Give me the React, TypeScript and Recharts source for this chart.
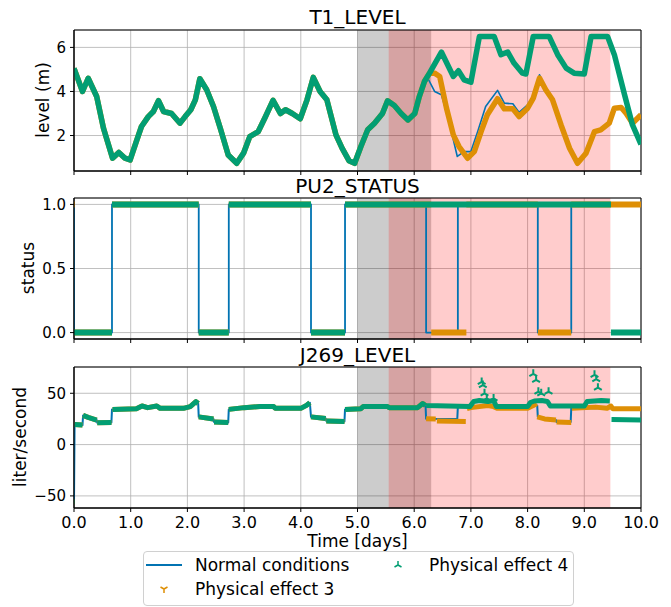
import React from "react";
import {
  ComposedChart,
  Line,
  Scatter,
  XAxis,
  YAxis,
  CartesianGrid,
  ReferenceArea,
} from "recharts";

// colorblind palette
const BLUE = "#0173b2";
const ORANGE = "#de8f05";
const GREEN = "#029e73";
const FONT = "'DejaVu Sans', sans-serif";

const days = [0, 1, 2, 3, 4, 5, 6, 7, 8, 9, 10];

// shaded windows (days)
const grayWindow = [5.0, 6.3];
const redWindow = [5.55, 9.46];

// ---- T1_LEVEL ----
// identical for all three runs until ~6.2 days
const t1SharedTime = [0, 0.15, 0.25, 0.4, 0.52, 0.68, 0.79, 0.9, 0.99, 1.1, 1.19, 1.31, 1.4, 1.49, 1.58, 1.72, 1.87, 1.96, 2.06, 2.14, 2.22, 2.34, 2.46, 2.58, 2.72, 2.87, 2.99, 3.1, 3.25, 3.37, 3.51, 3.64, 3.73, 3.85, 3.99, 4.11, 4.22, 4.34, 4.46, 4.62, 4.73, 4.85, 4.95, 5.06, 5.18, 5.3, 5.44, 5.53, 5.65, 5.77, 5.89, 6.01, 6.09, 6.18];
const t1SharedLevel = [5.05, 4.0, 4.6, 3.77, 2.33, 0.97, 1.23, 0.97, 0.89, 1.73, 2.41, 2.86, 3.09, 3.58, 3.09, 3.0, 2.56, 2.86, 3.17, 3.62, 4.58, 4.08, 3.32, 2.33, 1.12, 0.74, 1.2, 1.95, 2.18, 2.82, 3.6, 3.0, 3.17, 3.0, 2.76, 3.62, 4.64, 4.0, 3.62, 2.03, 1.42, 0.86, 0.74, 1.5, 2.26, 2.56, 3.0, 3.58, 3.36, 3.0, 2.71, 3.0, 3.77, 4.45];

const t1NormalTime = [6.24, 6.36, 6.48, 6.6, 6.76, 6.88, 7.0, 7.12, 7.26, 7.47, 7.59, 7.74, 7.85, 8.0, 8.1, 8.21, 8.32, 8.44, 8.59, 8.74, 8.88, 9.03, 9.18, 9.29, 9.44, 9.53, 9.65, 9.74, 9.85, 10.0];
const t1NormalLevel = [4.6, 4.0, 3.85, 2.79, 1.05, 1.27, 1.27, 2.18, 3.32, 4.05, 3.47, 3.44, 3.05, 3.39, 3.77, 4.76, 4.08, 3.62, 2.48, 1.42, 0.74, 1.2, 2.18, 2.26, 2.56, 3.24, 3.27, 3.0, 2.56, 2.94];

const t1Effect3Time = [6.27, 6.36, 6.45, 6.57, 6.69, 6.79, 6.94, 7.06, 7.18, 7.29, 7.47, 7.59, 7.74, 7.85, 8.0, 8.1, 8.21, 8.32, 8.44, 8.59, 8.74, 8.88, 9.03, 9.18, 9.29, 9.44, 9.53, 9.65, 9.74, 9.85, 10.0];
const t1Effect3Level = [4.83, 4.83, 4.68, 3.24, 2.03, 1.5, 0.97, 1.27, 2.18, 2.94, 3.67, 3.21, 3.21, 2.86, 3.24, 3.7, 4.61, 4.08, 3.62, 2.48, 1.42, 0.74, 1.2, 2.18, 2.26, 2.56, 3.24, 3.27, 3.0, 2.56, 2.94];

const t1Effect4Time = [6.27, 6.48, 6.69, 6.78, 6.88, 7.0, 7.15, 7.41, 7.53, 7.65, 7.76, 7.91, 7.97, 8.1, 8.38, 8.53, 8.68, 8.82, 9.0, 9.12, 9.41, 9.53, 9.71, 9.85, 10.0];
const t1Effect4Level = [4.83, 5.79, 4.68, 4.94, 4.53, 4.42, 6.5, 6.5, 5.67, 5.79, 5.29, 4.83, 4.79, 6.5, 6.5, 5.67, 5.06, 4.83, 4.79, 6.5, 6.5, 5.67, 3.85, 2.48, 1.6];

// ---- PU2_STATUS ----
const statusNormalTime = [0, 0, 0.67, 2.2, 2.73, 4.18, 4.78, 6.21, 6.77, 8.18, 8.77, 10];
const statusNormalValue = [1, 0, 1, 0, 1, 0, 1, 0, 1, 0, 1, 1];
// [start, end, value]
const statusEffect3 = [[0, 0.015, 1], [0, 0.67, 0], [0.67, 2.2, 1], [2.2, 2.73, 0], [2.73, 4.18, 1], [4.18, 4.78, 0], [4.78, 6.3, 1], [6.3, 6.92, 0], [6.92, 8.18, 1], [8.18, 8.77, 0], [8.77, 10, 1]];
const statusEffect4 = [[0, 0.67, 0], [0.67, 2.2, 1], [2.2, 2.73, 0], [2.73, 4.18, 1], [4.18, 4.78, 0], [4.78, 9.47, 1], [9.47, 10, 0]];

// ---- J269_LEVEL ----
const j269NormalTime = [0, 0.01, 0.15, 0.16, 0.25, 0.4, 0.41, 0.66, 0.67, 1.1, 1.2, 1.3, 1.46, 1.52, 1.93, 2.05, 2.15, 2.19, 2.2, 2.46, 2.47, 2.72, 2.73, 3.0, 3.28, 3.52, 3.55, 4.0, 4.1, 4.16, 4.18, 4.44, 4.45, 4.77, 4.78, 5.06, 5.1, 5.53, 5.56, 6.06, 6.15, 6.2, 6.21, 6.76, 6.77, 7.4, 8.0, 8.1, 8.17, 8.18, 8.5, 8.51, 8.76, 8.77, 9.4, 9.47, 9.5, 10];
const j269NormalValue = [-55.6, 19.6, 19, 28.4, 26.5, 23.9, 21.2, 21.5, 34.3, 35, 37.6, 36, 37.6, 35.3, 35.3, 37, 41.8, 40, 27, 25, 21.9, 21.5, 34.3, 36, 37, 37, 35.3, 35.3, 38.2, 40.8, 27, 25.5, 22.9, 22.5, 34.3, 35, 37, 37, 36, 36, 40, 38, 25.2, 25, 37, 36.5, 37, 40, 38, 27, 24, 22, 22, 35.5, 35.5, 37.6, 35, 35];

// marker runs (no connection across jumps)
const j269SharedRuns = [
  [[0, -55.6], [0.012, -55.6]],
  [[0.01, 19.6], [0.15, 19]],
  [[0.16, 28.4], [0.25, 26.5], [0.4, 23.9]],
  [[0.41, 21.2], [0.66, 21.5]],
  [[0.68, 34.3], [1.1, 35], [1.2, 37.6], [1.3, 36], [1.46, 37.6], [1.52, 35.3], [1.93, 35.3], [2.05, 37], [2.15, 41.8], [2.19, 40]],
  [[2.2, 27], [2.46, 25]],
  [[2.47, 21.9], [2.72, 21.5]],
  [[2.73, 34.3], [3.0, 36], [3.28, 37], [3.52, 37], [3.55, 35.3], [4.0, 35.3], [4.1, 38.2], [4.16, 40.8]],
  [[4.18, 27], [4.44, 25.5]],
  [[4.45, 22.9], [4.77, 22.5]],
  [[4.78, 34.3], [5.06, 35], [5.1, 37], [5.53, 37], [5.56, 36], [6.06, 36], [6.15, 40], [6.2, 38]],
];
const j269Effect3Runs = [
  [[6.21, 25.2], [6.38, 25]],
  [[6.4, 22.9], [6.91, 22.5]],
  [[6.93, 35], [7.0, 36], [7.3, 38], [7.4, 37], [7.47, 35.3], [8.0, 35.3], [8.1, 38], [8.16, 40]],
  [[8.17, 27], [8.3, 25], [8.5, 24]],
  [[8.51, 22], [8.77, 21.5]],
  [[8.78, 35.3], [9.2, 36.5], [9.4, 35.3], [9.47, 37.6], [9.5, 35], [10, 35]],
];
const j269Effect4Runs = [
  [[6.21, 38], [6.6, 37.6], [6.98, 37], [7.05, 42], [7.15, 43], [7.3, 42], [7.4, 43], [7.45, 37], [8.0, 37], [8.05, 41], [8.12, 42.5], [8.25, 43], [8.35, 42], [8.4, 37.6], [9.0, 37.6], [9.05, 42], [9.3, 43], [9.45, 42.5]],
  [[9.48, 24.5], [10, 24]],
];
const j269SpikeTime = [7.19, 7.21, 7.24, 7.28, 7.4, 8.1, 8.15, 8.19, 8.24, 8.37, 9.18, 9.21, 9.24];
const j269SpikeValue = [61, 58, 50, 45, 45, 69, 63, 51.6, 50, 51.6, 68, 63.7, 55.5];

type Pt = { t: number; v: number | null };
const zip = (ts: number[], vs: number[]): Pt[] => ts.map((t, i) => ({ t, v: vs[i] }));
const joinRuns = (runs: number[][][]): Pt[] =>
  runs.flatMap((run, i) => [
    ...(i ? [{ t: run[0][0], v: null }] : []),
    ...run.map(([t, v]) => ({ t, v })),
  ]);
const segRuns = (segs: number[][]) => segs.map(([a, b, v]) => [[a, v], [b, v]]);

const t1Shared = zip(t1SharedTime, t1SharedLevel);
const t1Normal = [...t1Shared, ...zip(t1NormalTime, t1NormalLevel)];
const t1Effect3 = [...t1Shared, ...zip(t1Effect3Time, t1Effect3Level)];
const t1Effect4 = [...t1Shared, ...zip(t1Effect4Time, t1Effect4Level)];

const statusNormal = zip(statusNormalTime, statusNormalValue);
const statusE3 = joinRuns(segRuns(statusEffect3));
const statusE4 = joinRuns(segRuns(statusEffect4));

const j269Normal = zip(j269NormalTime, j269NormalValue);
const j269E3 = joinRuns([...j269SharedRuns, ...j269Effect3Runs]);
const j269E4 = joinRuns([...j269SharedRuns, ...j269Effect4Runs]);
const j269Spikes = zip(j269SpikeTime, j269SpikeValue);

const TriUp = (props: any) => {
  const { cx, cy } = props;
  const r = 4.5;
  return (
    <path
      d={`M${cx},${cy}L${cx},${cy - r}M${cx},${cy}L${cx - r * 0.866},${cy + r * 0.5}M${cx},${cy}L${cx + r * 0.866},${cy + r * 0.5}`}
      stroke={GREEN}
      strokeWidth={2}
      fill="none"
    />
  );
};

const tickStyle = { fontSize: 15, fill: "#000", fontFamily: FONT };

function Panel({ top, height, domain, ticks, fmt, xLabels, children }: any) {
  return (
    <div style={{ position: "absolute", left: 0, top }}>
      <ComposedChart
        width={671}
        height={height}
        margin={{ top: 30, right: 30, bottom: 0, left: 14 }}
      >
        <CartesianGrid stroke="#b0b0b0" strokeWidth={0.8} />
        <XAxis
          type="number"
          dataKey="t"
          domain={[0, 10]}
          ticks={days}
          interval={0}
          allowDataOverflow
          height={xLabels ? 30 : 9}
          tickFormatter={(d: number) => (xLabels ? d.toFixed(1) : "")}
          tick={{ ...tickStyle, fontSize: 16 }}
          tickLine={{ stroke: "#000" }}
          axisLine={{ stroke: "#000" }}
          tickSize={4}
          tickMargin={5}
        />
        <YAxis
          type="number"
          domain={domain}
          ticks={ticks}
          interval={0}
          allowDataOverflow
          width={60}
          tickFormatter={fmt}
          tick={tickStyle}
          tickLine={{ stroke: "#000" }}
          axisLine={{ stroke: "#000" }}
          tickSize={4}
          tickMargin={4}
        />
        <ReferenceArea x1={grayWindow[0]} x2={grayWindow[1]} fill="#000" fillOpacity={0.2} strokeOpacity={0} />
        <ReferenceArea x1={redWindow[0]} x2={redWindow[1]} fill="#ff0000" fillOpacity={0.2} strokeOpacity={0} />
        {children}
        <ReferenceArea
          x1={0}
          x2={10}
          y1={domain[0]}
          y2={domain[1]}
          fill="none"
          stroke="#000"
          strokeWidth={1}
          ifOverflow="visible"
        />
      </ComposedChart>
    </div>
  );
}

const textAbs = (left: number, top: number, rotate = false): React.CSSProperties => ({
  position: "absolute",
  left,
  top,
  transform: `translate(-50%, -50%)${rotate ? " rotate(-90deg)" : ""}`,
  whiteSpace: "nowrap",
  fontFamily: FONT,
  color: "#000",
});

const legendRow: React.CSSProperties = {
  position: "absolute",
  display: "flex",
  alignItems: "center",
  fontSize: 17,
  fontFamily: FONT,
  whiteSpace: "nowrap",
};

export default function App() {
  const lineProps = { dot: false, activeDot: false, isAnimationActive: false, connectNulls: false, strokeLinejoin: "round" as const };
  return (
    <div style={{ position: "absolute", left: 0, top: 0, width: 671, height: 607, background: "#fff", overflow: "hidden" }}>
      <Panel top={0} height={180} domain={[0.39, 6.79]} ticks={[2, 4, 6]} fmt={(v: number) => String(v)}>
        <Line data={t1Normal} dataKey="v" stroke={BLUE} strokeWidth={1.6} {...lineProps} />
        <Line data={t1Effect3} dataKey="v" stroke={ORANGE} strokeWidth={5.5} {...lineProps} />
        <Line data={t1Effect4} dataKey="v" stroke={GREEN} strokeWidth={5.5} {...lineProps} />
      </Panel>
      <Panel top={168} height={180} domain={[-0.05, 1.05]} ticks={[0, 0.5, 1]} fmt={(v: number) => v.toFixed(1)}>
        <Line data={statusNormal} dataKey="v" type="stepAfter" stroke={BLUE} strokeWidth={1.8} {...lineProps} />
        <Line data={statusE3} dataKey="v" stroke={ORANGE} strokeWidth={6} {...lineProps} />
        <Line data={statusE4} dataKey="v" stroke={GREEN} strokeWidth={6} {...lineProps} />
      </Panel>
      <Panel top={337} height={201} domain={[-61.8, 75.6]} ticks={[-50, 0, 50]} fmt={(v: number) => (v < 0 ? "\u2212" + Math.abs(v) : String(v))} xLabels>
        <Line data={j269Normal} dataKey="v" stroke={BLUE} strokeWidth={2} {...lineProps} />
        <Line data={j269E3} dataKey="v" stroke={ORANGE} strokeWidth={5} {...lineProps} />
        <Line data={j269E4} dataKey="v" stroke={GREEN} strokeWidth={5} {...lineProps} />
        <Scatter data={j269Spikes} dataKey="v" shape={TriUp} isAnimationActive={false} />
      </Panel>

      <div style={{ ...textAbs(357.5, 17), fontSize: 20 }}>T1_LEVEL</div>
      <div style={{ ...textAbs(357.5, 186), fontSize: 20 }}>PU2_STATUS</div>
      <div style={{ ...textAbs(357.5, 355), fontSize: 20 }}>J269_LEVEL</div>

      <div style={{ ...textAbs(43, 100, true), fontSize: 17 }}>level (m)</div>
      <div style={{ ...textAbs(28, 268, true), fontSize: 17 }}>status</div>
      <div style={{ ...textAbs(20, 437, true), fontSize: 17 }}>liter/second</div>
      <div style={{ ...textAbs(357.5, 541), fontSize: 17 }}>Time [days]</div>

      <div
        style={{
          position: "absolute",
          left: 143,
          top: 551,
          width: 429,
          height: 53,
          border: "1px solid #d0d0d0",
          borderRadius: 4,
          background: "#fff",
        }}
      >
        <div style={{ ...legendRow, left: 2, top: 2, height: 22 }}>
          <svg width={36} height={10} style={{ marginRight: 13 }}>
            <line x1={0} y1={5} x2={36} y2={5} stroke={BLUE} strokeWidth={2} />
          </svg>
          Normal conditions
        </div>
        <div style={{ ...legendRow, left: 2, top: 26, height: 22 }}>
          <svg width={36} height={10} style={{ marginRight: 13 }}>
            <path d="M18,5L18,9M18,5L14.5,3M18,5L21.5,3" stroke={ORANGE} strokeWidth={1.5} fill="none" />
          </svg>
          Physical effect 3
        </div>
        <div style={{ ...legendRow, left: 236, top: 2, height: 22 }}>
          <svg width={36} height={10} style={{ marginRight: 13 }}>
            <path d="M18,5L18,1M18,5L14.5,7M18,5L21.5,7" stroke={GREEN} strokeWidth={1.5} fill="none" />
          </svg>
          Physical effect 4
        </div>
      </div>
    </div>
  );
}
